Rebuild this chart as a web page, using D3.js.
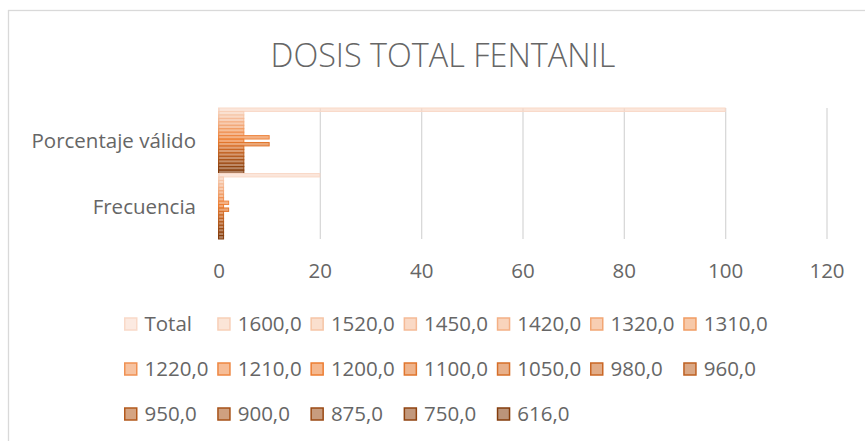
<!DOCTYPE html>
<html>
<head>
<meta charset="utf-8">
<script src="https://cdn.jsdelivr.net/npm/d3@7"></script>
<style>
    body { margin: 0; background: #fff; }
    text { font-family: "Open Sans", sans-serif; fill: #666; }
</style>
</head>
<body>
<script>
//wrap everything in a self-executing anonymous function
(function () {

    //chart data
    var categories = ["Porcentaje válido", "Frecuencia"]; //top to bottom
    var seriesNames = ["Total", "1600,0", "1520,0", "1450,0", "1420,0", "1320,0", "1310,0",
        "1220,0", "1210,0", "1200,0", "1100,0", "1050,0", "980,0", "960,0",
        "950,0", "900,0", "875,0", "750,0", "616,0"];
    var frecuencia = [20, 1, 1, 1, 1, 1, 1, 1, 2, 1, 2, 1, 1, 1, 1, 1, 1, 1, 1];
    var porcentaje = [100, 5, 5, 5, 5, 5, 5, 5, 10, 5, 10, 5, 5, 5, 5, 5, 5, 5, 5];
    var xTicks = [0, 20, 40, 60, 80, 100, 120];
    var title = "DOSIS TOTAL FENTANIL";

    window.onload = drawChart();

    function drawChart(){
        var width = 865,
            height = 441;

        var svg = d3.select("body")
            .append("svg")
            .attr("width", width)
            .attr("height", height);

        //chart area border
        svg.append("rect")
            .attr("x", 8.5)
            .attr("y", 10.5)
            .attr("width", 900)
            .attr("height", 500)
            .attr("fill", "none")
            .attr("stroke", "#d9d9d9")
            .attr("stroke-width", 1.3);

        //title
        svg.append("text")
            .attr("x", 443)
            .attr("y", 67)
            .attr("text-anchor", "middle")
            .style("font-size", "32.4px")
            .style("font-weight", 300)
            .text(title);

        //scales
        var plotTop = 108, plotBottom = 239;
        var x = d3.scaleLinear().domain([0, 120]).range([218.5, 826.5]);
        var y0 = d3.scaleBand().domain(categories).range([plotTop, plotBottom]);
        var y1 = d3.scaleBand().domain(seriesNames).range([0, y0.bandwidth()]);

        //monochromatic orange palette, light to dark
        var color = d3.scaleLinear()
            .domain([0, 9, 18])
            .range(["#f9d9c8", "#ed7d31", "#843c0c"])
            .interpolate(d3.interpolateRgb);

        //vertical gridlines and value labels
        var xAxis = svg.append("g")
            .attr("transform", "translate(0," + plotBottom + ")")
            .call(d3.axisBottom(x).tickValues(xTicks).tickSize(-(plotBottom - plotTop)).tickFormat(d3.format("d")));
        xAxis.select(".domain").remove();
        xAxis.selectAll("line")
            .attr("stroke", "#d9d9d9")
            .attr("stroke-width", 1.3);
        xAxis.selectAll("text")
            .attr("y", 39)
            .attr("dy", null)
            .style("font-size", "20.5px")
            .style("fill", "#666");

        //category labels
        var yAxis = svg.append("g")
            .attr("transform", "translate(" + x(0) + ",0)")
            .call(d3.axisLeft(y0).tickSize(0).tickPadding(22.5));
        yAxis.select(".domain").remove();
        yAxis.selectAll("text")
            .attr("dy", "0.36em")
            .style("font-size", "20.5px")
            .style("fill", "#666");

        //bars
        var rows = categories.map(function (c) {
            return { cat: c, values: c === "Frecuencia" ? frecuencia : porcentaje };
        });

        var groups = svg.selectAll(".catGroup")
            .data(rows)
            .enter()
            .append("g")
            .attr("class", "catGroup")
            .attr("transform", function (d) { return "translate(0," + y0(d.cat) + ")"; });

        groups.selectAll("rect")
            .data(function (d) {
                return d.values.map(function (v, i) { return { name: seriesNames[i], i: i, value: v }; });
            })
            .enter()
            .append("rect")
            .attr("x", x(0))
            .attr("y", function (d) { return y1(d.name); })
            .attr("width", function (d) { return x(d.value) - x(0); })
            .attr("height", y1.bandwidth())
            .attr("fill", function (d) { return color(d.i); })
            .attr("fill-opacity", 0.65)
            .attr("stroke", function (d) { return color(d.i); })
            .attr("stroke-width", 1);

        //legend
        var legend = svg.selectAll(".legendItem")
            .data(seriesNames)
            .enter()
            .append("g")
            .attr("class", "legendItem")
            .attr("transform", function (d, i) {
                return "translate(" + (124 + 93.2 * (i % 7)) + "," + (324 + 45 * Math.floor(i / 7)) + ")";
            });

        legend.append("rect")
            .attr("x", 0.75)
            .attr("y", -6)
            .attr("width", 12)
            .attr("height", 12)
            .attr("fill", function (d, i) { return color(i); })
            .attr("fill-opacity", 0.55)
            .attr("stroke", function (d, i) { return color(i); })
            .attr("stroke-width", 1.5);

        legend.append("text")
            .attr("x", 20.5)
            .attr("y", 7)
            .style("font-size", "20.5px")
            .text(function (d) { return d; });
    }

})();
</script>
</body>
</html>
